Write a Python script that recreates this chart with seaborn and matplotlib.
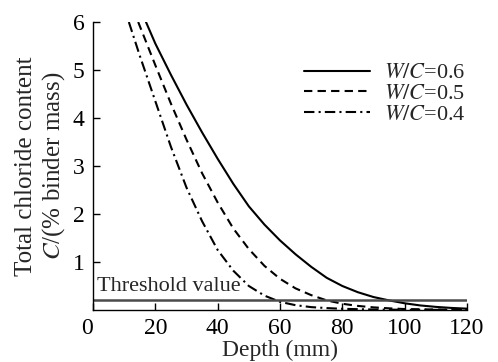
import numpy as np
import pandas as pd
import matplotlib
matplotlib.use("Agg")
import matplotlib.pyplot as plt
import seaborn as sns

# ---- data ----
depth_06 = [17, 20, 25, 30, 35, 40, 45, 50, 55, 60, 65, 70, 75, 80, 85, 90, 95, 100, 105, 110, 115, 120]
cl_06 = [6.0, 5.55, 4.9, 4.28, 3.7, 3.15, 2.63, 2.16, 1.78, 1.45, 1.16, 0.9, 0.67, 0.5, 0.37, 0.27, 0.2, 0.14, 0.095, 0.065, 0.043, 0.028]

depth_05 = [14.5, 20, 25, 30, 35, 40, 45, 50, 55, 60, 65, 70, 75, 80, 85, 90, 95, 100, 110, 120]
cl_05 = [6.0, 5.1, 4.3, 3.55, 2.85, 2.24, 1.7, 1.27, 0.92, 0.65, 0.45, 0.31, 0.2, 0.13, 0.085, 0.055, 0.035, 0.02, 0.01, 0.005]

depth_04 = [11.5, 15, 20, 25, 30, 35, 40, 45, 50, 55, 60, 65, 70, 75, 80, 90, 100, 120]
cl_04 = [6.0, 5.3, 4.35, 3.4, 2.55, 1.85, 1.25, 0.82, 0.5, 0.3, 0.17, 0.1, 0.06, 0.04, 0.025, 0.01, 0.005, 0.002]

series_labels = ["$W/C$=0.6", "$W/C$=0.5", "$W/C$=0.4"]
threshold = 0.2
threshold_label = "Threshold value"
x_ticks = [0, 20, 40, 60, 80, 100, 120]
y_ticks = [1, 2, 3, 4, 5, 6]

df = pd.concat([
    pd.DataFrame({"depth": depth_06, "cl": cl_06, "series": series_labels[0]}),
    pd.DataFrame({"depth": depth_05, "cl": cl_05, "series": series_labels[1]}),
    pd.DataFrame({"depth": depth_04, "cl": cl_04, "series": series_labels[2]}),
], ignore_index=True)

sns.set_theme(style="ticks")
plt.rcParams["font.family"] = ["Liberation Serif", "DejaVu Serif"]
plt.rcParams["mathtext.fontset"] = "stix"

fig = plt.figure(figsize=(4.98, 3.62), dpi=100)
ax = fig.add_axes([93/498, 1-310/362, (467-93)/498, (310-22)/362])

sns.lineplot(data=df, x="depth", y="cl", style="series", style_order=series_labels,
             dashes={series_labels[0]: "", series_labels[1]: (4, 2.5), series_labels[2]: (5, 2, 1, 2)},
             color="black", linewidth=1.5, ax=ax, sort=False, estimator=None)

ax.plot([0, 120], [threshold, threshold], color="#4a4a4a", linewidth=1.8, solid_capstyle="butt")
ax.text(1.3, 0.3, threshold_label, fontsize=16, ha="left", va="bottom")

ax.set_xlim(0, 120)
ax.set_ylim(0, 6)
ax.set_xticks(x_ticks)
ax.set_yticks(y_ticks)
ax.tick_params(direction="in", length=5, width=1, labelsize=17, colors="black")
ax.tick_params(axis="x", pad=6)
ax.tick_params(axis="y", pad=6)
for lab in ax.get_xticklabels():
    if lab.get_text() == "0":
        lab.set_ha("right")
sns.despine(ax=ax)
for s in ["left", "bottom"]:
    ax.spines[s].set_color("black")
    ax.spines[s].set_linewidth(1)

ax.set_xlabel("Depth (mm)", fontsize=17, labelpad=0)
ax.set_ylabel("Total chloride content\n$C$/(% binder mass)", fontsize=18, labelpad=4, linespacing=1.15)

leg = ax.legend(loc="upper right", bbox_to_anchor=(474/498, 1-54/362), bbox_transform=fig.transFigure,
                frameon=False, fontsize=16, handlelength=3.0, handletextpad=0.6, labelspacing=0.0,
                borderaxespad=0)
for line in leg.get_lines():
    line.set_linewidth(1.5)

fig.savefig("out.png", dpi=100)
